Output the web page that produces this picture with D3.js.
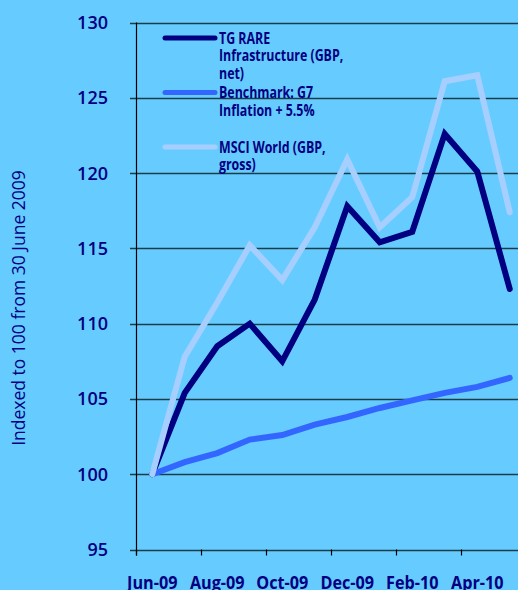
<!DOCTYPE html>
<html lang="en">
<head>
<meta charset="utf-8">
<title>TG RARE Infrastructure vs benchmark</title>
<script src="https://cdnjs.cloudflare.com/ajax/libs/d3/7.8.5/d3.min.js"></script>
<style>
    html, body { margin: 0; padding: 0; background: #66ccff; overflow: hidden; }
    svg { display: block; font-family: "Open Sans", sans-serif; }
</style>
</head>
<body>
<div id="chart"></div>
<script>
    // monthly index values, 30 June 2009 = 100
    var months = ["Jun-09", "Jul-09", "Aug-09", "Sep-09", "Oct-09", "Nov-09",
                  "Dec-09", "Jan-10", "Feb-10", "Mar-10", "Apr-10", "May-10"];
    var tgRare = [100, 105.4, 108.5, 110.0, 107.5, 111.6, 117.8, 115.4, 116.1, 122.6, 120.1, 112.3];
    var benchmark = [100, 100.8, 101.4, 102.3, 102.6, 103.3, 103.8, 104.4, 104.9, 105.4, 105.8, 106.4];
    var msciWorld = [100, 107.8, 111.4, 115.2, 112.9, 116.4, 120.9, 116.4, 118.4, 126.1, 126.5, 117.4];
    var yTicks = [95, 100, 105, 110, 115, 120, 125, 130];
    var xLabels = ["Jun-09", "Aug-09", "Oct-09", "Dec-09", "Feb-10", "Apr-10"];

    var W = 518, H = 590;
    var plotLeft = 136, plotTop = 22.5, plotBottom = 549.5;
    var navy = "#000080";

    var svg = d3.select("#chart").append("svg")
        .attr("width", W)
        .attr("height", H);

    var x = d3.scaleBand().domain(months).range([plotLeft, plotLeft + 12 * 32.5]);
    var y = d3.scaleLinear().domain([95, 130]).range([plotBottom, plotTop]);

    function cx(d, i) { return x(months[i]) + x.bandwidth() / 2; }

    // horizontal gridlines (with the little tick stubs on the left)
    svg.append("g").selectAll("line")
        .data(yTicks)
        .join("line")
        .attr("x1", plotLeft - 6)
        .attr("x2", W)
        .attr("y1", d => Math.round(y(d)) + 0.5)
        .attr("y2", d => Math.round(y(d)) + 0.5)
        .attr("stroke", "#1c3c48")
        .attr("stroke-width", 1.3);

    // y axis labels
    svg.append("g").selectAll("text")
        .data(yTicks)
        .join("text")
        .attr("x", 108)
        .attr("y", d => y(d))
        .attr("dy", "0.36em")
        .attr("text-anchor", "end")
        .attr("fill", navy)
        .attr("font-size", 18)
        .attr("font-weight", 600)
        .text(d => d);

    // y axis line
    svg.append("line")
        .attr("x1", plotLeft + 0.5).attr("x2", plotLeft + 0.5)
        .attr("y1", plotTop).attr("y2", plotBottom + 6)
        .attr("stroke", "#000").attr("stroke-width", 1.2);

    // x tick marks every second month
    var tickIdx = d3.range(0, 13, 2);
    svg.append("g").selectAll("line")
        .data(tickIdx)
        .join("line")
        .attr("x1", i => Math.round(x.range()[0] + i * x.step()) + 0.5)
        .attr("x2", i => Math.round(x.range()[0] + i * x.step()) + 0.5)
        .attr("y1", plotBottom)
        .attr("y2", plotBottom + 6)
        .attr("stroke", "#000")
        .attr("stroke-width", 1.2);

    svg.append("g").selectAll("text")
        .data(xLabels)
        .join("text")
        .attr("transform", d => "translate(" + (x(d) + x.bandwidth() / 2) + ",589) scale(0.9,1)")
        .attr("text-anchor", "middle")
        .attr("fill", navy)
        .attr("font-size", 18)
        .attr("font-weight", 700)
        .text(d => d);

    // y axis title
    svg.append("text")
        .attr("transform", "translate(25,308) rotate(-90)")
        .attr("text-anchor", "middle")
        .attr("fill", navy)
        .attr("font-size", 17.5)
        .attr("font-weight", 500)
        .text("Indexed to 100 from 30 June 2009");

    var series = [
        {key: "tg", values: tgRare, color: "#000080"},
        {key: "bm", values: benchmark, color: "#3366ff"},
        {key: "msci", values: msciWorld, color: "#a6cfff"}
    ];

    var line = d3.line()
        .x(cx)
        .y(d => y(d));

    svg.append("g").selectAll("path")
        .data(series)
        .join("path")
        .attr("d", d => line(d.values))
        .attr("fill", "none")
        .attr("stroke", d => d.color)
        .attr("stroke-width", 6)
        .attr("stroke-linejoin", "miter")
        .attr("stroke-linecap", "round");

    // legend
    var legend = [
        {color: "#000080", lineY: 38, lines: ["TG RARE", "Infrastructure (GBP,", "net)"]},
        {color: "#3366ff", lineY: 92.5, lines: ["Benchmark: G7", "Inflation + 5.5%"]},
        {color: "#a6cfff", lineY: 147, lines: ["MSCI World (GBP,", "gross)"]}
    ];

    var lg = svg.append("g").selectAll("g")
        .data(legend)
        .join("g");

    lg.append("line")
        .attr("x1", 165).attr("x2", 215)
        .attr("y1", d => d.lineY).attr("y2", d => d.lineY)
        .attr("stroke", d => d.color)
        .attr("stroke-width", 5)
        .attr("stroke-linecap", "round");

    // reference font is narrow, so squeeze the text a bit
    lg.append("text")
        .attr("transform", d => "translate(219," + (d.lineY + 5.5) + ") scale(0.8,1)")
        .attr("fill", navy)
        .attr("font-size", 15.5)
        .attr("font-weight", 700)
        .selectAll("tspan")
        .data(d => d.lines.map((t, i) => ({t: t, i: i})))
        .join("tspan")
        .attr("x", 0)
        .attr("y", d => d.i * 17.7)
        .text(d => d.t);
</script>
</body>
</html>
